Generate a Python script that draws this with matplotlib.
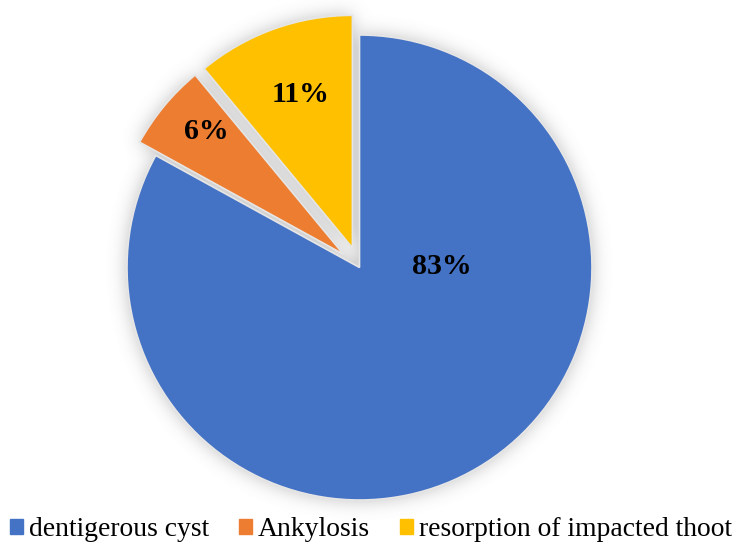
import numpy as np
import matplotlib
matplotlib.use("Agg")
import matplotlib.pyplot as plt
import matplotlib.patches as mpatches

# slice data
labels = ["dentigerous cyst", "Ankylosis", "resorption of impacted thoot"]
shares = [83, 6, 11]
colors = ["#4472C4", "#ED7D31", "#FFC000"]
explode = [0, 0.09, 0.09]   # fraction of the radius

# where each percentage sits: (angle in degrees, fraction of radius from wedge apex)
label_spots = [(1, 0.355), (138.3, 0.79), (108.9, 0.695)]

W, H = 732, 544
fig = plt.figure(figsize=(W / 100, H / 100), dpi=100, facecolor="white")
ax = fig.add_axes([0, 0, 1, 1])

cx, cy, R = 359.5, H - 267.5, 232.5
wedges, texts, autotexts = ax.pie(
    shares, colors=colors, explode=[e * R for e in explode], startangle=90,
    counterclock=False, center=(cx, cy), radius=R, autopct="%1.0f%%",
    wedgeprops=dict(edgecolor="none", zorder=3),
    textprops=dict(family="Liberation Serif", fontweight="bold", fontsize=21.5, color="black"),
)
ax.set_xlim(0, W)
ax.set_ylim(0, H)
ax.set_aspect("equal")
ax.set_axis_off()

# soft drop shadow behind the pie: rasterise wedges, then gaussian blur
xs = np.arange(W) + 0.5
ys = H - (np.arange(H) + 0.5)
gx, gy = np.meshgrid(xs, ys)
pts = np.column_stack([gx.ravel(), gy.ravel()])
mask = np.zeros(W * H)
for w in wedges:
    mask = np.maximum(mask, w.get_path().contains_points(pts).astype(float))
mask = mask.reshape(H, W)

sigma = 9.0
k = np.arange(-int(3 * sigma), int(3 * sigma) + 1)
kern = np.exp(-k ** 2 / (2 * sigma ** 2))
kern /= kern.sum()
blur = np.apply_along_axis(lambda r: np.convolve(r, kern, mode="same"), 1, mask)
blur = np.apply_along_axis(lambda c: np.convolve(c, kern, mode="same"), 0, blur)

shadow = np.zeros((H, W, 4))
shadow[..., :3] = 0.5
shadow[..., 3] = np.clip(blur * 1.5, 0, 1) * 0.34
ax.imshow(shadow, extent=[0, W, 0, H], origin="upper", zorder=1, interpolation="bilinear")

# thin light rims on the slices
for w in wedges:
    w.set_edgecolor("#E6E6E6")
    w.set_linewidth(1.2)

# place the percentage labels
for w, t, (ang, frac) in zip(wedges, autotexts, label_spots):
    wx, wy = w.center
    a = np.deg2rad(ang)
    t.set_position((wx + frac * R * np.cos(a), wy + frac * R * np.sin(a)))
    t.set_ha("center")
    t.set_va("center")
    t.set_zorder(5)

handles = [mpatches.Patch(color=c, label=l) for c, l in zip(colors, labels)]
fig.legend(
    handles=handles, loc="center", bbox_to_anchor=(0.507, 1 - 530 / H), ncol=3,
    frameon=False, prop=dict(family="Liberation Serif", size=19.9),
    handlelength=0.47, handleheight=0.47, handletextpad=0.2, columnspacing=1.1,
    borderpad=0, borderaxespad=0,
)

fig.savefig("out.png", dpi=100, facecolor="white")
